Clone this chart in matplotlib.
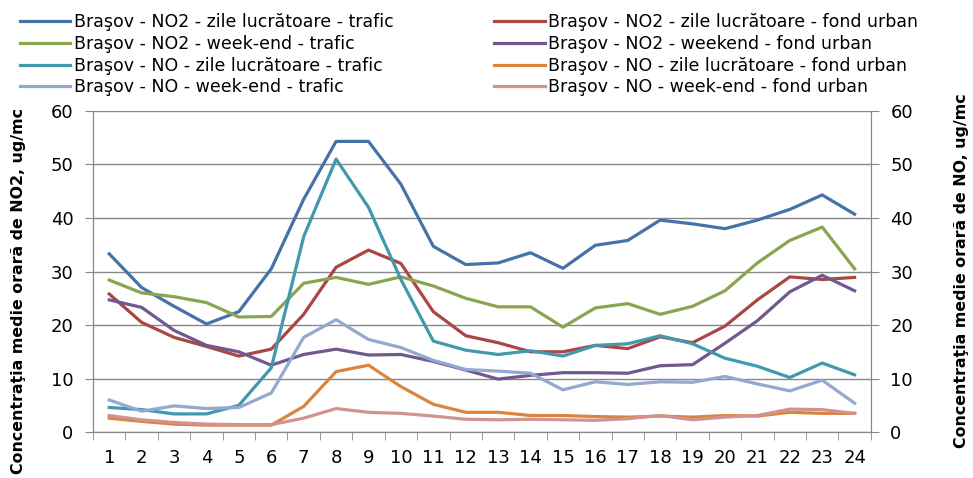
import matplotlib.pyplot as plt
from matplotlib.ticker import MultipleLocator
import numpy as np

plt.rcParams['font.family'] = ['DejaVu Sans']

hours = list(range(1, 25))

# NO2 (left axis)
no2_lucr_trafic = [33.3, 27, 23.5, 20.2, 22.5, 30.5, 43.5, 54.3, 54.3, 46.3, 34.7, 31.3,
                   31.6, 33.5, 30.6, 34.9, 35.8, 39.6, 38.9, 38, 39.6, 41.6, 44.3, 40.7]
no2_lucr_fond = [25.8, 20.5, 17.7, 16, 14.2, 15.5, 22, 30.8, 34, 31.5, 22.5, 18,
                 16.7, 15, 15, 16.2, 15.6, 17.8, 16.7, 19.8, 24.7, 29, 28.5, 28.9]
no2_we_trafic = [28.4, 26, 25.3, 24.2, 21.5, 21.6, 27.8, 28.9, 27.6, 29, 27.3, 25,
                 23.4, 23.4, 19.6, 23.2, 24, 22, 23.5, 26.4, 31.6, 35.8, 38.3, 30.5]
no2_we_fond = [24.7, 23.3, 19, 16.2, 15, 12.5, 14.5, 15.5, 14.4, 14.5, 13.2, 11.6,
               9.9, 10.6, 11.1, 11.1, 11, 12.4, 12.6, 16.6, 20.8, 26.2, 29.3, 26.4]

# NO (right axis)
no_lucr_trafic = [4.6, 4.2, 3.4, 3.4, 5, 12, 36.5, 51, 42, 28.5, 17, 15.3,
                  14.5, 15.2, 14.2, 16.2, 16.5, 18, 16.5, 13.8, 12.3, 10.2, 12.9, 10.7]
no_we_trafic = [6, 3.9, 4.9, 4.4, 4.6, 7.3, 17.7, 21, 17.3, 15.8, 13.4, 11.7,
                11.4, 11, 7.9, 9.4, 8.9, 9.4, 9.3, 10.4, 9, 7.7, 9.7, 5.4]
no_lucr_fond = [2.6, 2, 1.5, 1.3, 1.3, 1.3, 4.8, 11.3, 12.5, 8.5, 5.2, 3.7,
                3.7, 3.1, 3.1, 2.9, 2.8, 3, 2.8, 3.1, 3, 3.7, 3.5, 3.5]
no_we_fond = [3.1, 2.3, 1.8, 1.5, 1.4, 1.4, 2.6, 4.4, 3.7, 3.5, 3, 2.4,
              2.3, 2.4, 2.3, 2.2, 2.5, 3.1, 2.3, 2.8, 3.1, 4.3, 4.2, 3.5]

W, H = 973, 478
fig = plt.figure(figsize=(W / 100, H / 100), dpi=100)
ax = fig.add_axes([0.0956, 0.096, 0.7994, 0.672])
ax2 = ax.twinx()

lw = 2.3
h_blue, = ax.plot(hours, no2_lucr_trafic, color='#4572A7', lw=lw, label='Braşov - NO2 - zile lucrătoare - trafic')
h_red, = ax.plot(hours, no2_lucr_fond, color='#AA4643', lw=lw, label='Braşov - NO2 - zile lucrătoare - fond urban')
h_green, = ax.plot(hours, no2_we_trafic, color='#89A54E', lw=lw, label='Braşov - NO2 - week-end - trafic')
h_purple, = ax.plot(hours, no2_we_fond, color='#71588F', lw=lw, label='Braşov - NO2 - weekend - fond urban')
h_teal, = ax2.plot(hours, no_lucr_trafic, color='#4198AF', lw=lw, label='Braşov - NO - zile lucrătoare - trafic')
h_orange, = ax2.plot(hours, no_lucr_fond, color='#DB843D', lw=lw, label='Braşov - NO - zile lucrătoare - fond urban')
h_light, = ax2.plot(hours, no_we_trafic, color='#93A9CF', lw=lw, label='Braşov - NO - week-end - trafic')
h_pink, = ax2.plot(hours, no_we_fond, color='#D19392', lw=lw, label='Braşov - NO - week-end - fond urban')

for a in (ax, ax2):
    a.set_ylim(0, 60)
    a.set_xlim(0.5, 24.5)
    a.yaxis.set_major_locator(MultipleLocator(10))
    a.spines['top'].set_visible(False)
    for s in ('left', 'right', 'bottom'):
        a.spines[s].set_color('#888888')
    a.tick_params(axis='y', length=6, color='#888888', labelsize=13, pad=8)

ax.yaxis.grid(True, color='#888888', lw=1)
ax.set_axisbelow(True)
ax.set_xticks(hours)
ax.set_xticklabels([str(h) for h in hours])
ax.set_xticks(np.arange(0.5, 25, 1), minor=True)
ax.tick_params(axis='x', which='major', length=0, labelsize=13, pad=12)
ax.tick_params(axis='x', which='minor', length=6, color='#888888')

# axis titles, shrunk so that the longer one just fits between its top and the bottom edge
lab_l = fig.text(0.019, 1 - 108 / H, 'Concentraţia medie orară de NO2, ug/mc', rotation=90,
                 ha='center', va='top', fontsize=12, fontweight='bold')
lab_r = fig.text(0.988, 1 - 93 / H, 'Concentraţia medie orară de NO, ug/mc', rotation=90,
                 ha='center', va='top', fontsize=12, fontweight='bold')
r = fig.canvas.get_renderer()
ext = lab_l.get_window_extent(r)
fs = 12 * min(1.0, (H - 108 - 3) / ext.height)
lab_l.set_fontsize(fs)
lab_r.set_fontsize(fs)

handles = [h_blue, h_green, h_teal, h_light, h_red, h_purple, h_orange, h_pink]
fig.legend(handles=handles, labels=[h.get_label() for h in handles], ncol=2,
           loc='upper left', bbox_to_anchor=(20 / W, 1 - 13 / H), frameon=False,
           fontsize=12.5, handlelength=2.9, handletextpad=0.2, columnspacing=5.8,
           labelspacing=0.22, borderpad=0, borderaxespad=0)

fig.savefig('out.png', dpi=100)
